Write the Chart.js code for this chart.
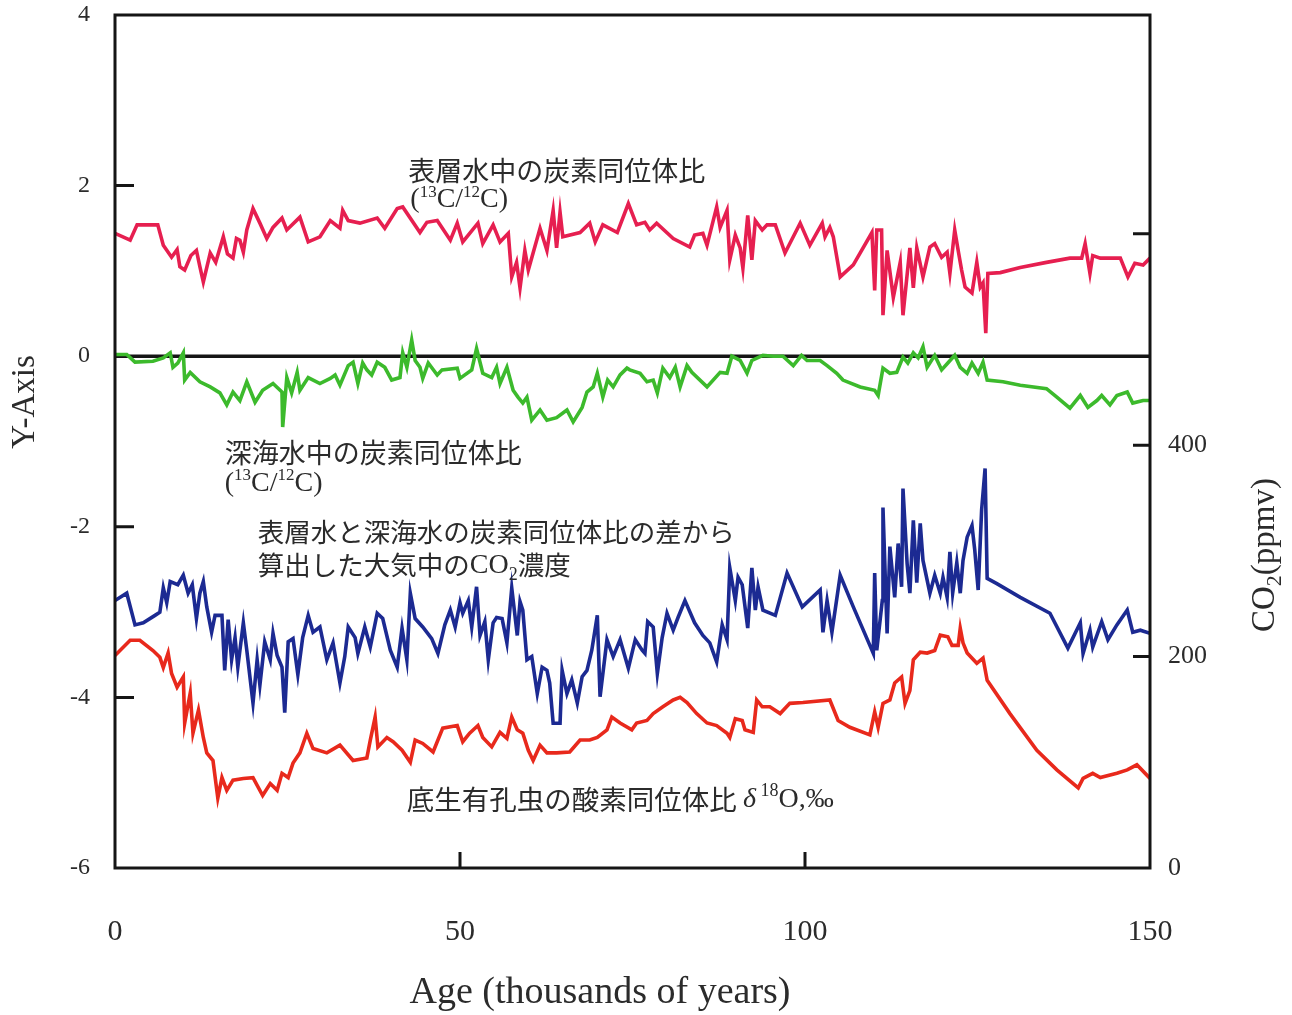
<!DOCTYPE html>
<html>
<head>
    <meta charset="utf-8">
    <title>炭素同位体比とCO2濃度</title>
    <script src="https://cdn.jsdelivr.net/npm/chart.js"></script>
    <style>
        html, body { margin: 0; padding: 0; background: #fff; }
        #wrap { width: 1292px; height: 1015px; }
    </style>
</head>
<body>
<div id="wrap"><canvas id="chart" width="1292" height="1015"></canvas></div>
<script>
// tick values
const ageTicks = [0, 50, 100, 150];
const leftTicks = [-6, -4, -2, 0, 2, 4];
const co2Ticks = [0, 200, 400, 600];

// surface water d13C (pink)
const surfaceAge = [0, 2.2, 3.2, 6.2, 7, 8.2, 9.0, 9.4, 10.1, 11.0, 11.8, 12.3, 12.8, 13.8, 14.6, 15.7, 16.3, 17.1, 17.6, 18.1,
    18.6, 19.1, 20.0, 21.0, 22.0, 22.9, 24.2, 24.9, 26.8, 28.0, 29.7, 31.2, 32.6, 33.0, 33.8, 35.5, 38.0, 39.1, 40.9, 41.7,
    44.2, 45.2, 46.7, 48.6, 49.6, 50.4, 52.6, 53.3, 54.8, 55.8, 57.0, 57.5, 58.2, 58.7, 59.4, 59.9, 61.6, 62.6, 63.5, 64.0,
    64.5, 64.9, 67.4, 68.8, 69.6, 70.7, 72.8, 74.4, 75.6, 76.8, 77.5, 78.5, 80.9, 83.3, 84.0, 85.2, 85.8, 87.2, 87.7, 88.7,
    89.1, 89.9, 90.6, 91.0, 91.7, 92.3, 92.8, 93.8, 94.5, 95.7, 97.1, 99.3, 100.7, 102.5, 102.9, 103.6, 104.1, 105.1, 107.0, 109.7,
    110.1, 110.4, 111.1, 111.3, 111.9, 112.8, 113.8, 114.2, 115.2, 115.7, 116.2, 117.1, 118.1, 118.8, 119.8, 120.6, 121.0, 121.7, 122.2, 122.7,
    123.2, 124.2, 124.9, 125.4, 125.8, 126.2, 126.5, 128.3, 131.2, 135.0, 138.4, 140.1, 140.6, 141.3, 141.7, 142.8, 145.7, 146.8, 147.8, 149.0, 150.0];
const surfaceC13 = [1.44, 1.36, 1.54, 1.54, 1.30, 1.16, 1.25, 1.05, 1.01, 1.18, 1.24, 1.05, 0.87, 1.21, 1.10, 1.40, 1.20, 1.15, 1.38, 1.36,
    1.22, 1.48, 1.73, 1.56, 1.38, 1.51, 1.62, 1.48, 1.63, 1.34, 1.40, 1.59, 1.50, 1.71, 1.59, 1.56, 1.62, 1.50, 1.73, 1.75,
    1.45, 1.57, 1.59, 1.36, 1.56, 1.34, 1.56, 1.32, 1.54, 1.34, 1.44, 0.93, 1.10, 0.80, 1.24, 1.01, 1.50, 1.24, 1.71, 1.27,
    1.69, 1.40, 1.45, 1.56, 1.34, 1.54, 1.45, 1.79, 1.54, 1.57, 1.48, 1.56, 1.38, 1.28, 1.42, 1.44, 1.30, 1.75, 1.51, 1.71,
    1.13, 1.42, 1.27, 1.03, 1.65, 1.13, 1.59, 1.48, 1.54, 1.54, 1.21, 1.56, 1.30, 1.56, 1.40, 1.51, 1.40, 0.93, 1.07, 1.45,
    0.77, 1.48, 1.48, 0.48, 1.24, 0.69, 1.10, 0.48, 1.27, 0.80, 1.27, 0.93, 1.28, 1.32, 1.16, 1.22, 0.97, 1.48, 1.24, 1.01,
    0.81, 0.74, 1.10, 0.81, 0.86, 0.27, 0.97, 0.98, 1.04, 1.10, 1.15, 1.15, 1.32, 0.97, 1.18, 1.15, 1.15, 0.93, 1.09, 1.07, 1.15];

// deep water d13C (green)
const deepAge = [0, 1.7, 2.9, 5.5, 7.0, 8.0, 8.4, 9.1, 9.9, 10.1, 10.9, 12.3, 13.8, 15.2, 16.2, 17.1, 18.1, 19.1, 20.3, 21.4,
    22.9, 24.2, 24.3, 24.9, 25.6, 26.4, 26.8, 28.0, 29.7, 31.2, 31.9, 32.6, 33.8, 34.5, 35.2, 35.9, 36.5, 37.2, 38.0, 39.1,
    40.1, 41.3, 41.7, 42.3, 43.0, 43.5, 44.2, 44.6, 45.4, 46.7, 47.4, 49.6, 50.0, 51.7, 52.4, 53.3, 54.6, 55.3, 55.8, 56.8,
    57.7, 58.4, 59.1, 59.7, 60.4, 61.6, 62.6, 64.0, 65.5, 66.4, 67.7, 68.4, 69.3, 69.9, 70.7, 71.4, 72.2, 73.2, 74.2, 74.6,
    76.1, 77.1, 78.0, 78.6, 79.4, 80.4, 81.2, 81.9, 82.9, 83.6, 85.8, 87.7, 88.7, 89.4, 90.6, 91.6, 92.3, 93.9, 95.4, 96.8,
    98.3, 99.5, 100.3, 102.2, 103.2, 104.6, 105.5, 108.0, 110.1, 110.6, 111.3, 112.3, 113.3, 114.2, 114.9, 115.7, 116.4, 117.1, 117.7, 118.8,
    119.8, 120.7, 121.7, 122.5, 123.5, 124.2, 125.1, 125.8, 126.4, 128.7, 131.2, 135.0, 136.5, 138.4, 139.9, 141.0, 142.3, 143.0, 144.2, 145.2,
    146.7, 147.5, 149.0, 150.0];
const deepC13 = [0.02, 0.02, -0.07, -0.06, -0.02, 0.04, -0.13, -0.08, 0.04, -0.28, -0.19, -0.30, -0.36, -0.43, -0.57, -0.42, -0.52, -0.30, -0.54, -0.40,
    -0.32, -0.42, -0.83, -0.25, -0.43, -0.19, -0.40, -0.25, -0.32, -0.26, -0.22, -0.34, -0.11, -0.07, -0.32, -0.08, -0.16, -0.22, -0.07, -0.13,
    -0.28, -0.25, 0.04, -0.13, 0.19, -0.05, -0.13, -0.26, -0.08, -0.22, -0.16, -0.14, -0.26, -0.16, 0.09, -0.20, -0.25, -0.13, -0.32, -0.13,
    -0.40, -0.48, -0.55, -0.48, -0.75, -0.63, -0.75, -0.72, -0.63, -0.77, -0.60, -0.42, -0.36, -0.20, -0.48, -0.28, -0.36, -0.22, -0.14, -0.16,
    -0.20, -0.30, -0.28, -0.43, -0.14, -0.25, -0.13, -0.36, -0.11, -0.19, -0.36, -0.19, -0.20, 0.00, -0.05, -0.20, -0.05, 0.01, 0.00, 0.00,
    -0.11, 0.01, -0.05, -0.05, -0.11, -0.20, -0.28, -0.36, -0.40, -0.46, -0.14, -0.20, -0.19, -0.01, -0.08, 0.04, -0.02, 0.11, -0.13, 0.01,
    -0.16, -0.08, 0.01, -0.13, -0.20, -0.08, -0.20, -0.07, -0.28, -0.30, -0.34, -0.38, -0.48, -0.61, -0.46, -0.60, -0.52, -0.46, -0.57, -0.46,
    -0.42, -0.55, -0.52, -0.52];

// atmospheric CO2 (blue, ppmv)
const co2Age = [0, 1.7, 2.9, 4.1, 5.8, 6.5, 7.0, 7.5, 8.0, 9.1, 9.9, 10.6, 11.2, 11.8, 12.3, 12.8, 13.3, 14.0, 14.5, 15.5,
    15.9, 16.4, 16.9, 17.4, 17.8, 18.6, 19.1, 20.0, 20.6, 21.0, 21.7, 22.5, 22.9, 23.5, 24.2, 24.6, 25.1, 25.8, 26.5, 27.2,
    28.0, 28.7, 29.7, 30.7, 31.6, 32.6, 33.3, 33.8, 34.8, 35.2, 36.2, 37.0, 38.0, 38.8, 39.9, 40.9, 41.6, 42.3, 42.8, 43.5,
    44.6, 45.9, 46.8, 47.8, 48.6, 49.3, 50.0, 50.4, 51.2, 51.7, 52.4, 52.9, 53.6, 54.1, 54.8, 55.3, 56.1, 56.8, 57.5, 58.3,
    58.7, 59.1, 59.7, 60.4, 61.2, 61.9, 62.6, 63.0, 63.5, 64.5, 64.8, 65.5, 66.2, 67.0, 67.7, 68.4, 69.1, 69.9, 70.3, 71.3,
    72.2, 73.2, 74.4, 75.4, 76.4, 76.8, 77.2, 78.0, 78.6, 79.3, 80.0, 80.9, 81.6, 82.6, 84.0, 85.2, 86.2, 87.2, 88.0, 88.7,
    89.1, 89.9, 90.3, 90.9, 91.7, 92.3, 92.8, 93.2, 93.9, 95.7, 97.4, 99.6, 102.2, 102.6, 103.2, 103.9, 105.1, 107.0, 109.9, 110.1,
    110.4, 111.2, 111.3, 111.9, 112.3, 113.0, 113.5, 114.0, 114.2, 114.8, 115.2, 115.7, 116.2, 116.7, 117.1, 118.1, 118.8, 119.6, 120.0, 120.6,
    121.0, 121.4, 122.0, 122.5, 122.9, 123.5, 124.2, 124.6, 125.1, 125.6, 126.1, 126.4, 127.8, 131.2, 135.5, 138.1, 139.9, 140.3, 141.3, 141.7,
    143.0, 143.9, 145.2, 146.7, 147.5, 148.6, 150.0];
const co2Ppm = [253, 260, 230, 232, 239, 242, 265, 251, 271, 268, 277, 260, 268, 236, 260, 271, 247, 223, 239, 239,
    187, 235, 197, 218, 190, 232, 206, 156, 197, 173, 214, 197, 222, 201, 190, 147, 214, 217, 183, 218,
    239, 223, 228, 197, 213, 175, 200, 228, 218, 203, 228, 209, 241, 236, 206, 190, 227, 197, 260, 236,
    228, 217, 203, 230, 244, 228, 251, 241, 253, 228, 266, 220, 233, 197, 232, 237, 236, 213, 265, 220,
    252, 244, 197, 200, 165, 190, 187, 175, 137, 137, 187, 165, 178, 156, 181, 187, 206, 239, 162, 216,
    200, 216, 189, 216, 206, 203, 233, 228, 184, 218, 241, 225, 237, 253, 232, 220, 213, 195, 230, 216,
    284, 253, 275, 268, 227, 284, 244, 266, 244, 239, 279, 247, 263, 223, 253, 223, 277, 247, 203, 279,
    206, 253, 341, 222, 304, 256, 307, 266, 359, 288, 260, 329, 270, 326, 291, 260, 277, 260, 275, 256,
    299, 260, 289, 260, 291, 313, 324, 301, 263, 339, 378, 274, 269, 256, 241, 208, 232, 203, 225, 209,
    233, 216, 230, 244, 223, 225, 222];

// benthic foraminifera d18O (red)
const o18Age = [0, 2.2, 3.6, 5.5, 6.5, 7.0, 7.7, 8.2, 9.0, 9.9, 10.1, 10.9, 11.3, 12.1, 12.8, 13.3, 14.2, 14.9, 15.5, 16.2,
    17.1, 18.6, 20.0, 21.4, 22.5, 23.5, 24.2, 25.1, 25.8, 26.8, 27.8, 28.7, 30.7, 32.6, 34.5, 36.5, 37.0, 37.7, 38.1, 39.4,
    40.3, 41.6, 42.8, 43.5, 44.6, 46.1, 47.5, 49.6, 50.4, 51.4, 52.6, 53.3, 54.6, 55.8, 56.8, 57.5, 58.3, 59.1, 59.9, 60.6,
    61.6, 62.6, 64.0, 65.9, 67.4, 68.8, 69.9, 71.3, 72.0, 73.2, 74.9, 75.6, 77.1, 78.0, 79.4, 80.9, 81.9, 82.9, 84.3, 85.8,
    87.2, 88.7, 89.1, 89.9, 90.9, 91.3, 92.5, 93.0, 93.8, 94.9, 96.4, 97.8, 99.7, 103.6, 104.8, 106.5, 109.4, 110.1, 110.6, 111.3,
    112.3, 113.0, 114.0, 114.5, 115.2, 115.7, 116.7, 117.7, 118.8, 119.6, 120.7, 121.3, 122.2, 122.5, 122.9, 123.5, 124.9, 125.8, 126.4, 129.7,
    133.6, 136.5, 139.6, 140.3, 141.7, 142.8, 145.2, 146.7, 148.1, 150.0];
const o18Val = [-3.51, -3.33, -3.33, -3.45, -3.53, -3.65, -3.48, -3.72, -3.88, -3.76, -4.30, -3.95, -4.42, -4.15, -4.47, -4.65, -4.74, -5.18, -4.94, -5.09,
    -4.97, -4.95, -4.94, -5.15, -5.01, -5.09, -4.89, -4.94, -4.77, -4.65, -4.42, -4.60, -4.65, -4.56, -4.74, -4.71, -4.50, -4.23, -4.58, -4.47,
    -4.52, -4.62, -4.76, -4.50, -4.54, -4.64, -4.36, -4.33, -4.52, -4.42, -4.33, -4.47, -4.58, -4.41, -4.48, -4.23, -4.38, -4.42, -4.62, -4.74,
    -4.56, -4.65, -4.65, -4.64, -4.50, -4.50, -4.47, -4.38, -4.23, -4.30, -4.38, -4.30, -4.27, -4.19, -4.11, -4.03, -4.00, -4.06, -4.19, -4.30,
    -4.33, -4.42, -4.47, -4.25, -4.27, -4.38, -4.41, -4.03, -4.11, -4.11, -4.19, -4.07, -4.06, -4.03, -4.27, -4.35, -4.44, -4.17, -4.35, -4.07,
    -4.03, -3.83, -3.76, -4.07, -3.92, -3.56, -3.47, -3.48, -3.45, -3.27, -3.29, -3.39, -3.39, -3.19, -3.36, -3.48, -3.60, -3.54, -3.80, -4.19,
    -4.62, -4.85, -5.06, -4.95, -4.89, -4.94, -4.89, -4.85, -4.79, -4.95];

const SERIF = '"Liberation Serif", "DejaVu Serif", serif';
const JP = '"Noto Sans CJK JP", "Noto Sans", sans-serif';
const INK = '#2b2b2b';

function pts(xs, ys) {
    return xs.map((v, i) => ({ x: v, y: ys[i] }));
}

// text pieces: [text, font, baseline shift]
function drawRuns(ctx, x, y, runs, align) {
    let total = 0;
    runs.forEach(r => { ctx.font = r[1]; total += ctx.measureText(r[0]).width; });
    let cx = align === 'center' ? x - total / 2 : x;
    ctx.textAlign = 'left';
    ctx.textBaseline = 'middle';
    runs.forEach(r => {
        ctx.font = r[1];
        ctx.fillText(r[0], cx, y + (r[2] || 0));
        cx += ctx.measureText(r[0]).width;
    });
}

const ratio = [['(', '28px ' + SERIF], ['13', '17px ' + SERIF, -8], ['C/', '28px ' + SERIF], ['12', '17px ' + SERIF, -8], ['C)', '28px ' + SERIF]];

// labels inside the plot, placed at [age, left-axis value]
const notes = [
    { at: [42.5, 2.18], runs: [['表層水中の炭素同位体比', '27px ' + JP]] },
    { at: [42.8, 1.83], runs: ratio },
    { at: [15.9, -1.13], runs: [['深海水中の炭素同位体比', '27px ' + JP]] },
    { at: [15.9, -1.49], runs: ratio },
    { at: [20.7, -2.06], runs: [['表層水と深海水の炭素同位体比の差から', '26.5px ' + JP]] },
    { at: [20.7, -2.45], runs: [['算出した大気中の', '26.5px ' + JP], ['CO', '28px ' + SERIF], ['2', '18px ' + SERIF, 10], ['濃度', '26.5px ' + JP]] },
    { at: [42.3, -5.2], runs: [['底生有孔虫の酸素同位体比 ', '27.5px ' + JP], ['δ', 'italic 28px ' + SERIF], [' ', '18px ' + SERIF], ['18', '18px ' + SERIF, -8], ['O,‰', '28px ' + SERIF]] }
];

const overlay = {
    id: 'overlay',
    beforeDatasetsDraw(chart) {
        const { ctx, chartArea: a, scales: { y } } = chart;
        const y0 = y.getPixelForValue(0);
        ctx.save();
        ctx.strokeStyle = '#151515';
        ctx.lineWidth = 3.5;
        ctx.beginPath();
        ctx.moveTo(a.left, y0);
        ctx.lineTo(a.right, y0);
        ctx.stroke();
        ctx.restore();
    },
    afterDraw(chart) {
        const { ctx, chartArea: a, scales: { x, y, y2 } } = chart;
        ctx.save();
        // frame
        ctx.strokeStyle = '#151515';
        ctx.lineWidth = 3;
        ctx.strokeRect(a.left, a.top, a.right - a.left, a.bottom - a.top);
        // inward ticks
        ctx.beginPath();
        leftTicks.forEach(v => {
            if (v <= -6 || v >= 4 || v === 0) return;
            const p = y.getPixelForValue(v);
            ctx.moveTo(a.left, p); ctx.lineTo(a.left + 19, p);
        });
        co2Ticks.forEach(v => {
            if (v <= 0) return;
            const p = y2.getPixelForValue(v);
            ctx.moveTo(a.right, p); ctx.lineTo(a.right - 17, p);
        });
        ageTicks.forEach(v => {
            if (v <= 0 || v >= 150) return;
            const p = x.getPixelForValue(v);
            ctx.moveTo(p, a.bottom); ctx.lineTo(p, a.bottom - 16);
        });
        ctx.stroke();

        // axis titles
        ctx.fillStyle = INK;
        drawRuns(ctx, 600, 993, [['Age (thousands of years)', '38px ' + SERIF]], 'center');
        ctx.save();
        ctx.translate(25, 402);
        ctx.rotate(-Math.PI / 2);
        drawRuns(ctx, 0, 0, [['Y-Axis', '33px ' + SERIF]], 'center');
        ctx.restore();
        ctx.save();
        ctx.translate(1265, 555);
        ctx.rotate(-Math.PI / 2);
        drawRuns(ctx, 0, 0, [['CO', '33px ' + SERIF], ['2', '22px ' + SERIF, 10], ['(ppmv)', '33px ' + SERIF]], 'center');
        ctx.restore();

        // notes
        notes.forEach(n => {
            drawRuns(ctx, x.getPixelForValue(n.at[0]), y.getPixelForValue(n.at[1]), n.runs, 'left');
        });
        ctx.restore();
    }
};

const lineStyle = { borderWidth: 3.6, pointRadius: 0, tension: 0, fill: false, borderJoinStyle: 'miter' };

// axis boxes have fixed sizes so the plot frame lands where the original's does
function fixBox(prop, size) {
    return s => { s[prop] = size; s.paddingTop = 0; s.paddingBottom = 0; s.paddingLeft = 0; s.paddingRight = 0; };
}

new Chart(document.getElementById('chart'), {
    type: 'line',
    data: {
        datasets: [
            Object.assign({ label: '表層水', data: pts(surfaceAge, surfaceC13), borderColor: '#e61f50', yAxisID: 'y' }, lineStyle),
            Object.assign({ label: '深海水', data: pts(deepAge, deepC13), borderColor: '#3cba2c', yAxisID: 'y' }, lineStyle),
            Object.assign({ label: 'CO2', data: pts(co2Age, co2Ppm), borderColor: '#1c2a92', yAxisID: 'y2' }, lineStyle),
            Object.assign({ label: 'δ18O', data: pts(o18Age, o18Val), borderColor: '#e8291c', yAxisID: 'y' }, lineStyle)
        ]
    },
    options: {
        responsive: false,
        animation: false,
        layout: { padding: { top: 15, left: 0, right: 0, bottom: 0 } },
        plugins: { legend: { display: false }, tooltip: { enabled: false } },
        scales: {
            x: {
                type: 'linear', position: 'bottom', min: 0, max: 150,
                afterBuildTicks: s => { s.ticks = ageTicks.map(v => ({ value: v })); },
                afterFit: fixBox('height', 147),
                grid: { display: false, drawTicks: false },
                border: { display: false },
                ticks: { color: INK, font: { family: SERIF, size: 30 }, padding: 46, maxRotation: 0 }
            },
            y: {
                type: 'linear', position: 'left', min: -6, max: 4,
                afterBuildTicks: s => { s.ticks = leftTicks.map(v => ({ value: v })); },
                afterFit: fixBox('width', 115),
                grid: { display: false, drawTicks: false },
                border: { display: false },
                ticks: { color: INK, font: { family: SERIF, size: 24 }, padding: 25 }
            },
            y2: {
                type: 'linear', position: 'right', min: 0, max: 807,
                afterBuildTicks: s => { s.ticks = co2Ticks.map(v => ({ value: v })); },
                afterFit: fixBox('width', 142),
                grid: { display: false, drawTicks: false },
                border: { display: false },
                ticks: { color: INK, font: { family: SERIF, size: 26 }, padding: 18, callback: v => (v === 600 ? '' : v) }
            }
        }
    },
    plugins: [overlay]
});
</script>
</body>
</html>
